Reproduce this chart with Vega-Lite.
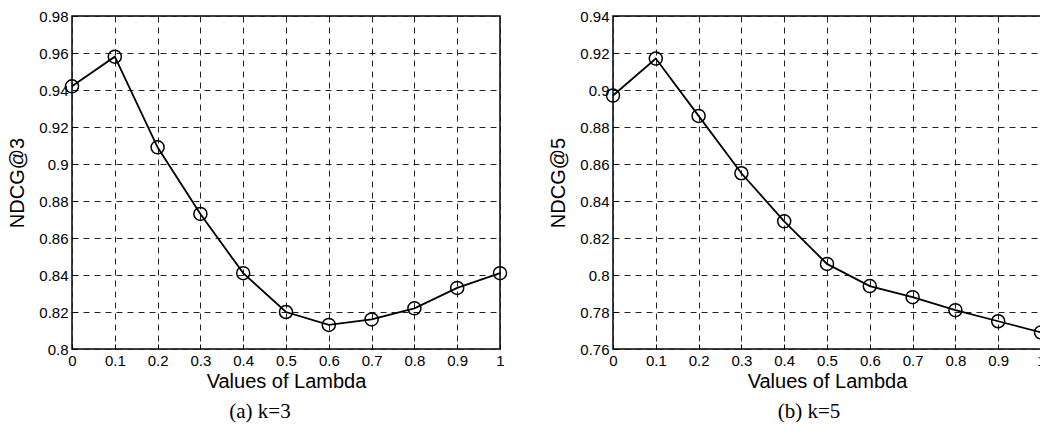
{
  "$schema": "https://vega.github.io/schema/vega-lite/v6.json",
  "padding": {"left": 7, "top": 8, "right": 0, "bottom": 0},
  "background": "white",
  "config": {
    "font": "Liberation Sans",
    "view": {"stroke": "black", "strokeWidth": 1.5},
    "axis": {
      "labelFont": "Liberation Sans",
      "labelFontSize": 15,
      "labelColor": "black",
      "labelFlush": false,
      "labelOverlap": false,
      "titleFont": "Liberation Sans",
      "titleFontSize": 20,
      "titleFontWeight": "normal",
      "titleColor": "black",
      "grid": true,
      "gridColor": "#222",
      "gridDash": [6, 5],
      "gridWidth": 1,
      "domain": false,
      "ticks": true,
      "tickSize": -5,
      "tickColor": "black",
      "tickWidth": 1,
      "labelPadding": 9
    },
    "title": {
      "font": "Liberation Serif",
      "fontSize": 21,
      "fontWeight": "normal",
      "color": "black"
    }
  },
  "datasets": {
    "k3": [
      {"lambda": 0, "ndcg": 0.942},
      {"lambda": 0.1, "ndcg": 0.958},
      {"lambda": 0.2, "ndcg": 0.909},
      {"lambda": 0.3, "ndcg": 0.873},
      {"lambda": 0.4, "ndcg": 0.841},
      {"lambda": 0.5, "ndcg": 0.820},
      {"lambda": 0.6, "ndcg": 0.813},
      {"lambda": 0.7, "ndcg": 0.816},
      {"lambda": 0.8, "ndcg": 0.822},
      {"lambda": 0.9, "ndcg": 0.833},
      {"lambda": 1, "ndcg": 0.841}
    ],
    "k5": [
      {"lambda": 0, "ndcg": 0.897},
      {"lambda": 0.1, "ndcg": 0.917},
      {"lambda": 0.2, "ndcg": 0.886},
      {"lambda": 0.3, "ndcg": 0.855},
      {"lambda": 0.4, "ndcg": 0.829},
      {"lambda": 0.5, "ndcg": 0.806},
      {"lambda": 0.6, "ndcg": 0.794},
      {"lambda": 0.7, "ndcg": 0.788},
      {"lambda": 0.8, "ndcg": 0.781},
      {"lambda": 0.9, "ndcg": 0.775},
      {"lambda": 1, "ndcg": 0.769}
    ]
  },
  "bounds": "flush",
  "spacing": 113,
  "hconcat": [
    {
      "width": 428,
      "height": 333,
      "title": {"text": "(a)  k=3", "orient": "bottom", "dx": -26, "offset": 10},
      "data": {"name": "k3"},
      "encoding": {
        "x": {
          "field": "lambda", "type": "quantitative",
          "scale": {"domain": [0, 1], "nice": false, "zero": false},
          "axis": {"values": [0, 0.1, 0.2, 0.3, 0.4, 0.5, 0.6, 0.7, 0.8, 0.9, 1], "format": "~g", "title": "Values of Lambda", "titlePadding": 3}
        },
        "y": {
          "field": "ndcg", "type": "quantitative",
          "scale": {"domain": [0.8, 0.98], "nice": false, "zero": false},
          "axis": {"values": [0.8, 0.82, 0.84, 0.86, 0.88, 0.9, 0.92, 0.94, 0.96, 0.98], "format": "~g", "title": "NDCG@3", "titlePadding": 11}
        }
      },
      "layer": [
        {"mark": {"type": "line", "color": "black", "strokeWidth": 1.8}},
        {"mark": {"type": "point", "shape": "circle", "filled": false, "size": 170, "color": "black", "strokeWidth": 1.5, "opacity": 1}}
      ]
    },
    {
      "width": 428,
      "height": 333,
      "title": {"text": "(b)  k=5", "orient": "bottom", "dx": -18, "offset": 10},
      "data": {"name": "k5"},
      "encoding": {
        "x": {
          "field": "lambda", "type": "quantitative",
          "scale": {"domain": [0, 1], "nice": false, "zero": false},
          "axis": {"values": [0, 0.1, 0.2, 0.3, 0.4, 0.5, 0.6, 0.7, 0.8, 0.9, 1], "format": "~g", "title": "Values of Lambda", "titlePadding": 3}
        },
        "y": {
          "field": "ndcg", "type": "quantitative",
          "scale": {"domain": [0.76, 0.94], "nice": false, "zero": false},
          "axis": {"values": [0.76, 0.78, 0.8, 0.82, 0.84, 0.86, 0.88, 0.9, 0.92, 0.94], "format": "~g", "title": "NDCG@5", "titlePadding": 11}
        }
      },
      "layer": [
        {"mark": {"type": "line", "color": "black", "strokeWidth": 1.8}},
        {"mark": {"type": "point", "shape": "circle", "filled": false, "size": 170, "color": "black", "strokeWidth": 1.5, "opacity": 1}}
      ]
    }
  ]
}
